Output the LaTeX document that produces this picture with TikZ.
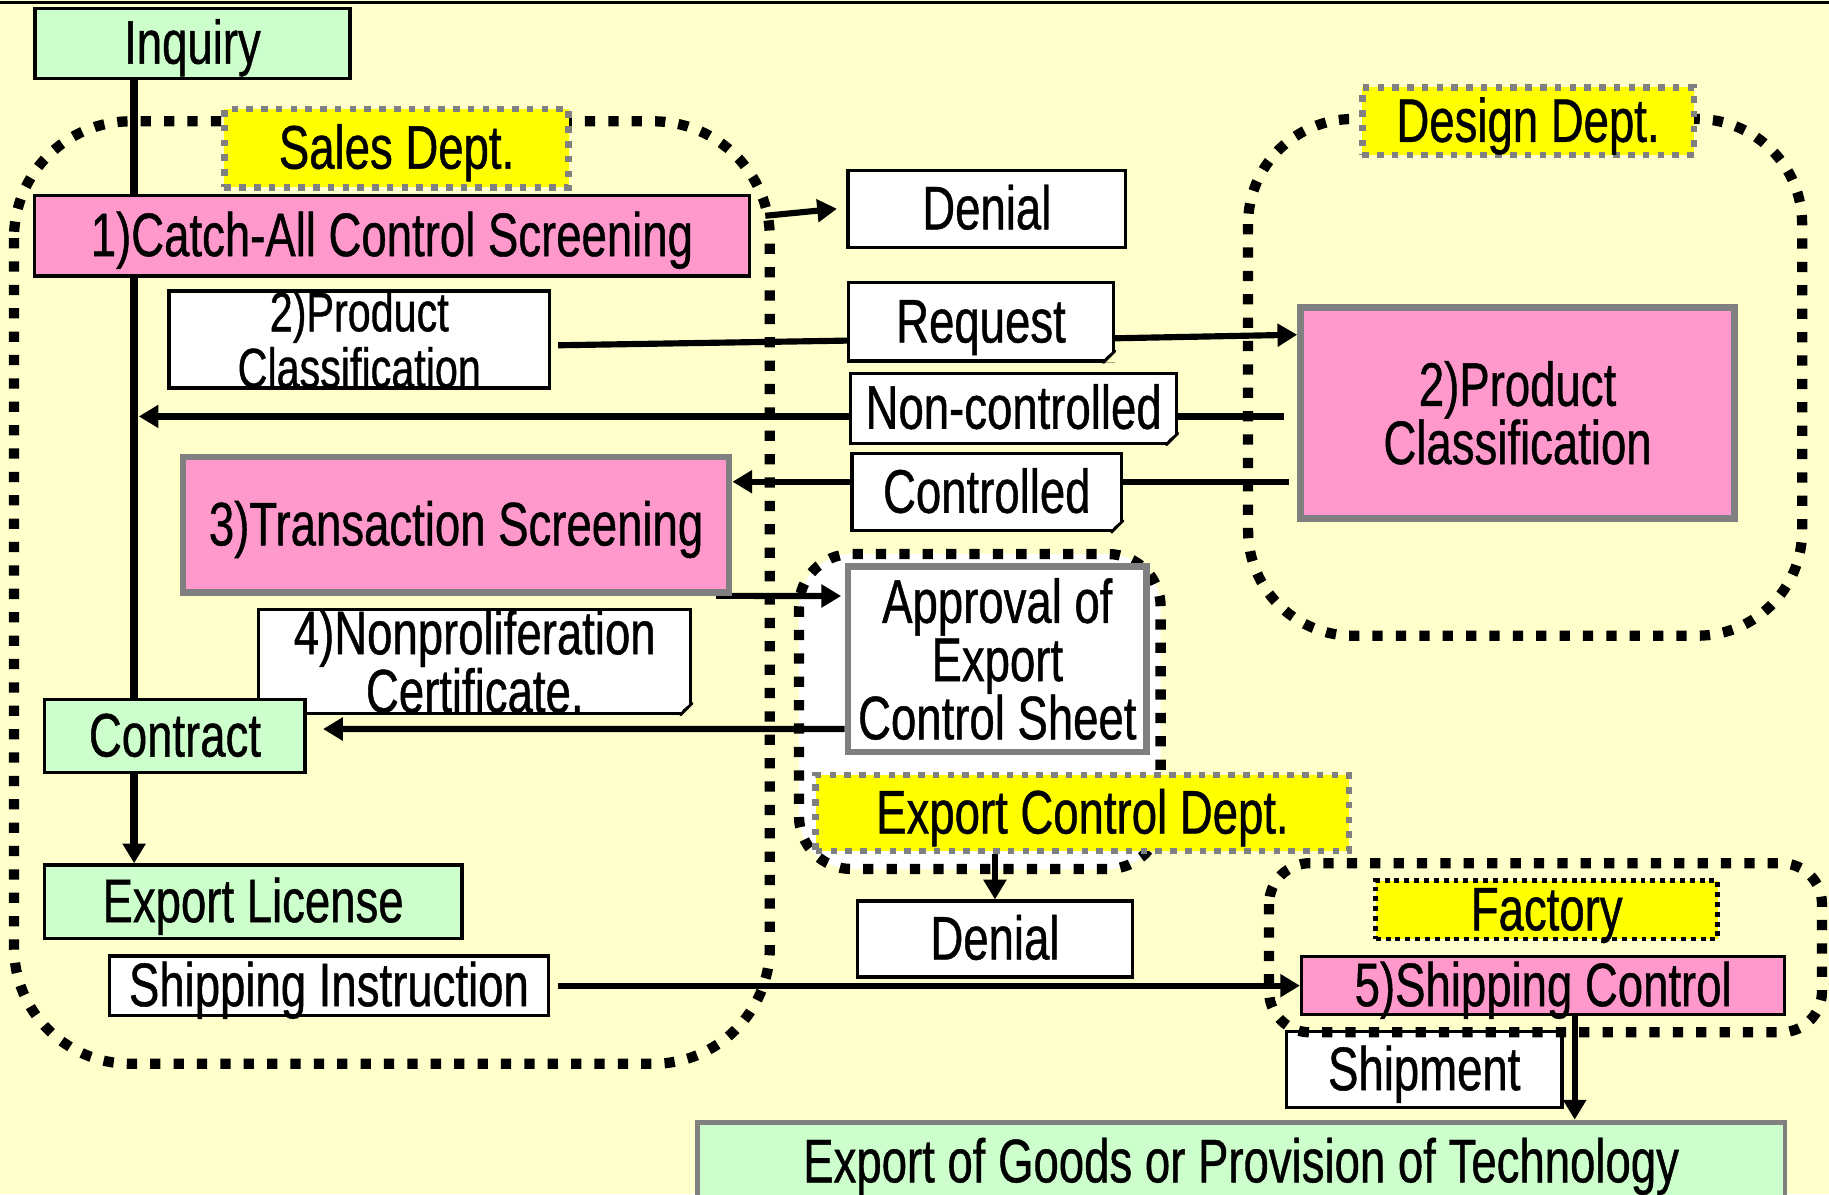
\documentclass[tikz,border=0pt]{standalone}
\usepackage{fontspec}
\setmainfont{Liberation Sans}[FakeStretch=0.74, FakeBold=0.7]
\usetikzlibrary{arrows.meta, positioning, calc}

\definecolor{paper}{HTML}{FFFFCC}
\definecolor{mint}{HTML}{CCFFCC}
\definecolor{rose}{HTML}{FF99CC}
\definecolor{tagyellow}{HTML}{FFFF00}
\definecolor{frame}{HTML}{808080}

\pgfdeclarelayer{back}
\pgfdeclarelayer{wires}
\pgfsetlayers{back,wires,main}

% folded corner on a note box
\newcommand{\dogear}[1]{%
  \fill[paper] ([xshift=-0.1cm]#1.south east) -- (#1.south east) -- ([yshift=0.1cm]#1.south east) -- cycle;
  \draw[line width=0.6pt, fill=white!75!black, line join=round]
    ([xshift=-0.1cm]#1.south east) -- ([yshift=0.1cm]#1.south east)
    -- ([xshift=-0.07cm,yshift=0.04cm]#1.south east) -- cycle;
}

\tikzset{
  box/.style={draw, line width=0.8pt, inner sep=0pt, align=center, text height=1em, text depth=0pt},
  stack/.style={text height={}, text depth={}},
  mintbox/.style={box, fill=mint},
  rosebox/.style={box, fill=rose},
  rosegray/.style={box, fill=rose, draw=frame, line width=1.6pt},
  notebox/.style={box, fill=white},
  graybox/.style={box, fill=white, draw=frame, line width=1.6pt},
  depttag/.style={fill=tagyellow, draw=frame, line width=1.6pt, dash pattern=on 1.6pt off 2pt,
                  inner sep=0pt, text height=1em, text depth=0pt},
  region/.style={line width=2.5pt, dash pattern=on 2.5pt off 3.2pt, rounded corners=#1},
  region/.default=0.8cm,
  wire/.style={line width=1.5pt},
  flow/.style={wire, -{Triangle[length=4.8pt,width=5.4pt]}}
}

\begin{document}
\begin{tikzpicture}[x=0.01cm, y=-0.01cm,
    font=\fontsize{15}{14.2}\selectfont]
  \useasboundingbox (0,0) rectangle (1568,1024);
  \begin{pgfonlayer}{back}
    \fill[paper] (0,0) rectangle (1568,1024);
    \draw[line width=0.8pt] (0,2) -- (1568,2);
    % departments
    \draw[region=1cm] (12,104) rectangle (660,912);
    \draw[region=0.9cm] (1070,102) rectangle (1545,545);
    \draw[region=0.45cm, fill=white] (685,475) rectangle (995,745);
  \end{pgfonlayer}

  \coordinate (spine) at (115,0);
  \coordinate (drop) at (1350,0);

  \node[mintbox, minimum width=2.7cm, minimum height=0.6cm] (inq) at (165,37) {Inquiry};
  \node[depttag, minimum width=2.95cm, minimum height=0.67cm] (salestag) at (340,127) {Sales Dept.};
  \node[rosebox, minimum width=6.13cm, minimum height=0.69cm] (catch) at (336,202) {1)Catch-All Control Screening};
  \node[notebox, minimum width=2.38cm, minimum height=0.66cm] (deny1) at (846,179) {Denial};
  \node[notebox, stack, font=\fontsize{13.6}{12.6}\selectfont, minimum width=3.26cm, minimum height=0.82cm] (pcsales) at (308,291) {2)Product\\Classification};
  \node[notebox, minimum width=2.27cm, minimum height=0.67cm] (req) at (841,276) {Request};
  \node[notebox, minimum width=2.79cm, minimum height=0.6cm] (nonctl) at (869,350) {Non-controlled};
  \node[notebox, minimum width=2.31cm, minimum height=0.66cm] (ctl) at (846,422) {Controlled};
  \dogear{req}
  \dogear{nonctl}
  \dogear{ctl}
  \node[rosegray, stack, minimum width=3.72cm, minimum height=1.81cm] (pcdesign) at (1301,354) {2)Product\\Classification};
  \node[depttag, minimum width=2.84cm, minimum height=0.58cm] (designtag) at (1310,104) {Design Dept.};
  \node[rosegray, minimum width=4.68cm, minimum height=1.16cm] (screen) at (391,450) {3)Transaction Screening};
  \node[graybox, stack, minimum width=2.56cm, minimum height=1.59cm] (approval) at (855,565) {Approval of\\Export\\Control Sheet};
  \node[depttag, minimum width=4.57cm, minimum height=0.65cm] (ecdtag) at (928,697) {Export Control Dept.};
  \node[notebox, stack, minimum width=3.7cm, minimum height=0.89cm] (npcert) at (407,567) {4)Nonproliferation\\Certificate.};
  \dogear{npcert}
  \node[mintbox, minimum width=2.23cm, minimum height=0.63cm] (contract) at (150,631) {Contract};
  \node[mintbox, minimum width=3.58cm, minimum height=0.63cm] (license) at (217,773) {Export License};
  \node[notebox, minimum width=3.76cm, minimum height=0.51cm] (shipinstr) at (282,845) {Shipping Instruction};
  \node[notebox, minimum width=2.36cm, minimum height=0.65cm] (deny2) at (853,805) {Denial};
  \node[notebox, minimum width=2.36cm, minimum height=0.65cm] (shipment) at (1221,917) {Shipment};
  % factory
  \draw[region=0.35cm] (1088,740) rectangle (1562,885);
  \node[depttag, draw=black, line width=1.2pt, dash pattern=on 1.2pt off 1.2pt,
        minimum width=2.93cm, minimum height=0.5cm] (factorytag) at (1326,780) {Factory};
  \node[rosebox, minimum width=4.14cm, minimum height=0.5cm] (shipctl) at (1323,845) {5)Shipping Control};
  \node[mintbox, draw=frame, line width=1.2pt, minimum width=9.32cm, minimum height=0.68cm] (goods) at (1064,996) {Export of Goods or Provision of Technology};

  \begin{pgfonlayer}{wires}
    \draw[wire, line width=2pt] (inq.south -| spine) -- (contract.north -| spine);
    \draw[flow, line width=2pt] (contract.south -| spine) -- (license.north -| spine);
    \draw[flow] ($(catch.east)+(0.12cm,0.17cm)$) -- ($(deny1.west)+(-0.08cm,0)$);
    \draw[wire] ($(pcsales.east)+(0.06cm,-0.05cm)$) -- ($(req.west)+(0,-0.16cm)$);
    \draw[flow] ($(req.east)+(0,-0.14cm)$) -- ($(pcdesign.west)+(0,0.67cm)$);
    \draw[wire] ($(pcdesign.west |- nonctl.east)+(-0.11cm,-0.07cm)$) -- ($(nonctl.east)+(0,-0.07cm)$);
    \draw[flow] ($(nonctl.west)+(0,-0.07cm)$) -- ($(nonctl.west -| spine)+(0.04cm,-0.07cm)$);
    \draw[wire] ($(pcdesign.west |- ctl.east)+(-0.07cm,0.09cm)$) -- ($(ctl.east)+(0,0.09cm)$);
    \draw[flow] ($(ctl.west)+(0,0.09cm)$) -- ($(screen.east |- ctl.west)+(0,0.09cm)$);
    \draw[flow] ($(screen.south east)+(-0.14cm,0)$) -- ($(approval.west)+(-0.03cm,0.54cm)$);
    \draw[flow] ($(approval.west)+(0,-0.6cm)$) -- ($(contract.east)+(0.14cm,0.06cm)$);
    \draw[flow] (ecdtag.south -| deny2.north) -- (deny2.north);
    \draw[flow] ($(shipinstr.east)+(0.07cm,0)$) -- (shipctl.west);
    \draw[flow] (shipctl.south -| drop) -- (goods.north -| drop);
  \end{pgfonlayer}
\end{tikzpicture}
\end{document}
